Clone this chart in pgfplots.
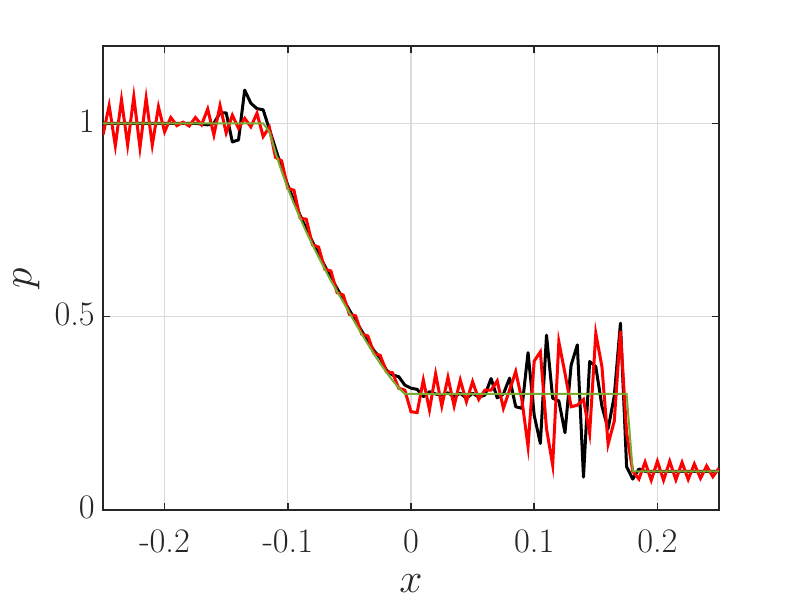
\documentclass[border=0pt]{standalone}
\usepackage{pgfplots}
\pgfplotsset{compat=1.18}
\definecolor{mgreen}{rgb}{0.466,0.674,0.188}
\definecolor{axgray}{rgb}{0.15,0.15,0.15}
\pgfplotstableread{
x y
-0.25 1.0
-0.175 1.0
-0.17 0.998
-0.165 0.996
-0.16 1.0
-0.155 1.027
-0.15 1.027
-0.145 0.952
-0.14 0.957
-0.135 1.086
-0.13 1.052
-0.125 1.038
-0.12 1.035
-0.115 0.985
-0.11 0.935
-0.105 0.885
-0.1 0.840
-0.095 0.800
-0.09 0.762
-0.085 0.727
-0.08 0.694
-0.075 0.662
-0.07 0.631
-0.065 0.601
-0.06 0.573
-0.055 0.545
-0.05 0.517
-0.045 0.490
-0.04 0.463
-0.035 0.437
-0.03 0.412
-0.025 0.393
-0.02 0.362
-0.015 0.349
-0.01 0.345
-0.005 0.323
0 0.315
0.005 0.312
0.01 0.293
0.015 0.306
0.02 0.300
0.025 0.297
0.03 0.303
0.035 0.293
0.04 0.302
0.045 0.289
0.05 0.302
0.055 0.292
0.06 0.297
0.065 0.340
0.07 0.290
0.075 0.300
0.08 0.341
0.085 0.267
0.09 0.263
0.095 0.407
0.1 0.245
0.105 0.172
0.11 0.452
0.115 0.289
0.12 0.282
0.125 0.200
0.13 0.375
0.135 0.427
0.14 0.085
0.145 0.384
0.15 0.371
0.155 0.268
0.16 0.210
0.165 0.295
0.17 0.483
0.175 0.112
0.18 0.080
0.185 0.106
0.19 0.100
0.25 0.100
}\blackdata
\pgfplotstableread{
x y
-0.25 0.970
-0.245 1.046
-0.24 0.942
-0.235 1.061
-0.23 0.944
-0.225 1.069
-0.22 0.937
-0.215 1.065
-0.21 0.944
-0.205 1.043
-0.2 0.978
-0.195 1.015
-0.19 0.994
-0.185 1.003
-0.18 0.993
-0.175 1.015
-0.17 0.996
-0.165 1.037
-0.16 0.970
-0.155 1.046
-0.15 0.975
-0.145 1.021
-0.14 0.987
-0.135 1.013
-0.13 0.991
-0.125 1.026
-0.12 0.966
-0.115 0.990
-0.11 0.912
-0.105 0.903
-0.1 0.832
-0.095 0.827
-0.09 0.755
-0.085 0.752
-0.08 0.686
-0.075 0.680
-0.07 0.623
-0.065 0.618
-0.06 0.562
-0.055 0.556
-0.05 0.506
-0.045 0.502
-0.04 0.455
-0.035 0.450
-0.03 0.405
-0.025 0.400
-0.02 0.358
-0.015 0.355
-0.01 0.315
-0.005 0.310
0 0.254
0.005 0.252
0.01 0.336
0.015 0.259
0.02 0.352
0.025 0.269
0.03 0.343
0.035 0.269
0.04 0.336
0.045 0.280
0.05 0.332
0.055 0.286
0.06 0.310
0.065 0.310
0.07 0.334
0.075 0.263
0.08 0.310
0.085 0.358
0.09 0.285
0.095 0.164
0.1 0.385
0.105 0.409
0.11 0.210
0.115 0.116
0.12 0.435
0.125 0.353
0.13 0.267
0.135 0.271
0.14 0.286
0.145 0.198
0.15 0.457
0.155 0.370
0.16 0.170
0.165 0.230
0.17 0.463
0.175 0.200
0.18 0.100
0.185 0.080
0.19 0.124
0.195 0.077
0.2 0.126
0.205 0.077
0.21 0.126
0.215 0.078
0.22 0.123
0.225 0.079
0.23 0.119
0.235 0.082
0.24 0.114
0.245 0.086
0.25 0.108
}\reddata
\pgfplotstableread{
x y
-0.25 1.0
-0.12 1.0
-0.115 0.978
-0.11 0.925
-0.105 0.876
-0.1 0.832
-0.095 0.792
-0.09 0.755
-0.085 0.719
-0.08 0.686
-0.075 0.654
-0.07 0.623
-0.065 0.593
-0.06 0.565
-0.055 0.538
-0.05 0.510
-0.045 0.482
-0.04 0.455
-0.035 0.429
-0.03 0.403
-0.025 0.379
-0.02 0.356
-0.015 0.335
-0.01 0.316
-0.005 0.300
0.175 0.300
0.18 0.100
0.25 0.100
}\greendata
\begin{document}
\begin{tikzpicture}
\begin{axis}[
  scale only axis, width=308pt, height=232pt,
  xmin=-0.25, xmax=0.25, ymin=0, ymax=1.2,
  xtick={-0.2,-0.1,0,0.1,0.2}, xticklabels={-0.2,-0.1,0,0.1,0.2},
  ytick={0,0.5,1}, yticklabels={0,0.5,1},
  tick align=inside, xtick pos=both, ytick pos=both,
  major tick length=3.5pt,
  grid=major, grid style={draw=gray!28, line width=0.7pt},
  axis line style={draw=axgray, line width=0.8pt},
  tick style={draw=axgray, line width=0.8pt},
  ticklabel style={font=\fontsize{17.2}{20}\selectfont, text=axgray},
  xticklabel style={yshift=-6.5pt},
  yticklabel style={xshift=-0.6pt, yshift=1.2pt},
  xlabel={$x$}, ylabel={$p$},
  every axis x label/.style={at={(axis description cs:0.5,0)}, anchor=center, yshift=-37pt, font=\fontsize{21}{24}\selectfont, text=axgray},
  every axis y label/.style={at={([xshift=-38.2pt]axis description cs:0,0.5)}, anchor=center, rotate=90, font=\fontsize{21}{24}\selectfont, text=axgray},
]
\addplot[black, line width=1.5pt, line join=round] table {\blackdata};
\addplot[red, line width=1.5pt] table {\reddata};
\addplot[mgreen, line width=1pt] table {\greendata};
\end{axis}
\pgfresetboundingbox
\path[use as bounding box] ([shift={(-51.5pt,-49.5pt)}]current axis.south west) rectangle ([shift={(37pt,23pt)}]current axis.north east);
\end{tikzpicture}
\end{document}
